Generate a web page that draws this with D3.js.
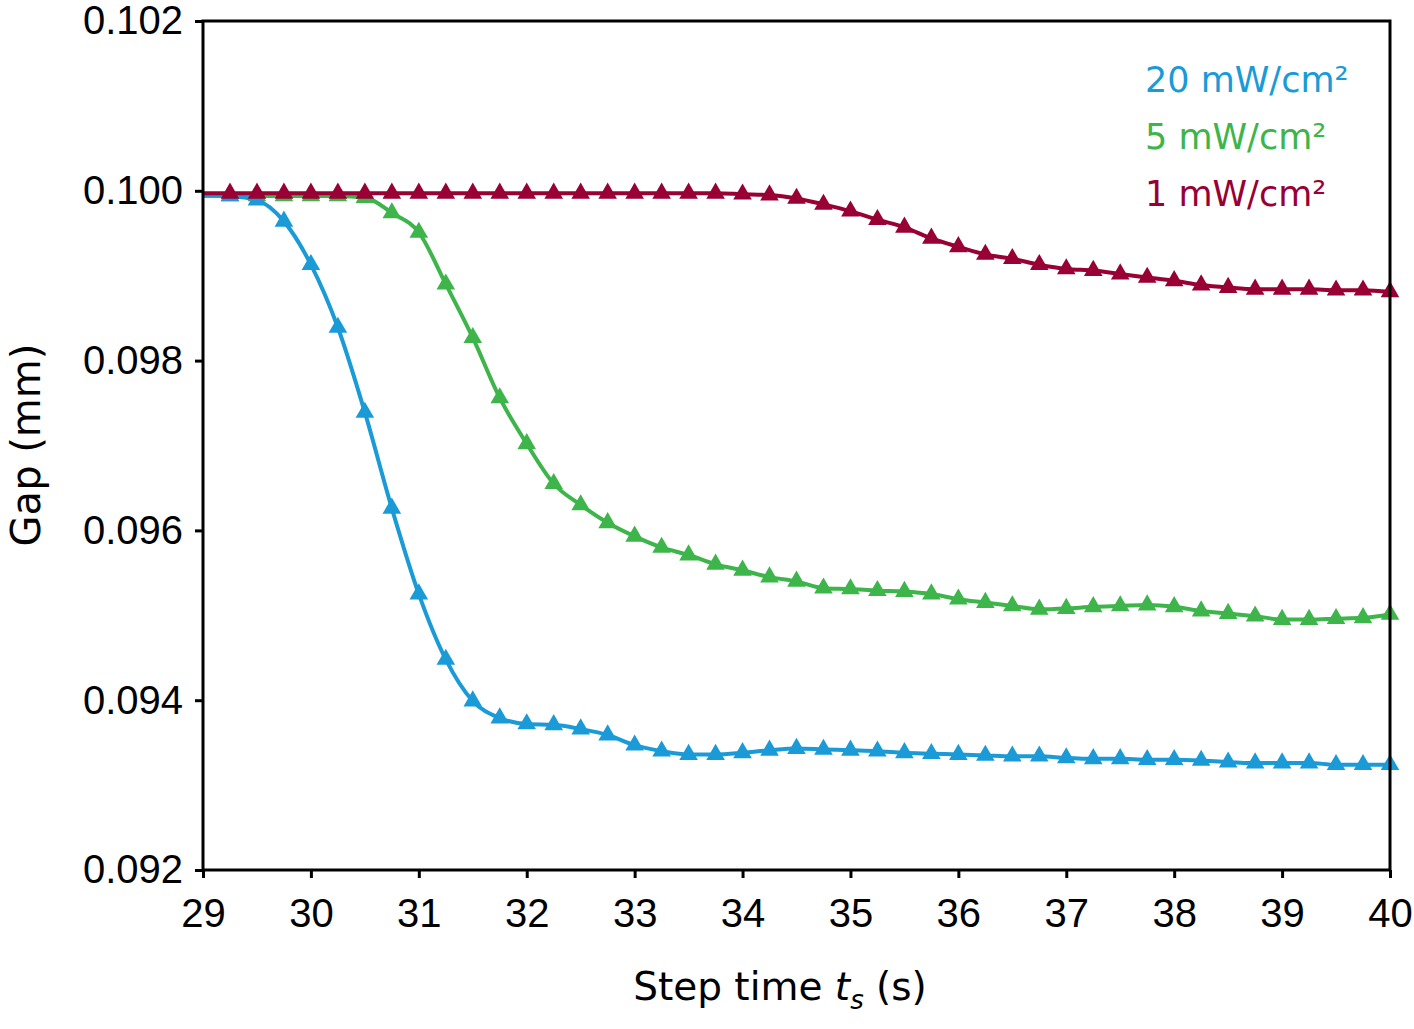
<!DOCTYPE html>
<html>
<head>
<meta charset="utf-8">
<script src="https://cdn.jsdelivr.net/npm/d3@7"></script>
<style>
  body { margin: 0; background: #fff; }
  svg { display: block; font-family: "DejaVu Sans", sans-serif; }
  .axis text { font-size: 40px; fill: #000; }
  .axis line { stroke: #000; stroke-width: 3px; }
</style>
</head>
<body>
<svg id="chart" width="1414" height="1029"></svg>
<script>
// step time (s)
var times = [29, 29.25, 29.5, 29.75, 30, 30.25, 30.5, 30.75, 31, 31.25, 31.5, 31.75,
  32, 32.25, 32.5, 32.75, 33, 33.25, 33.5, 33.75, 34, 34.25, 34.5, 34.75,
  35, 35.25, 35.5, 35.75, 36, 36.25, 36.5, 36.75, 37, 37.25, 37.5, 37.75,
  38, 38.25, 38.5, 38.75, 39, 39.25, 39.5, 39.75, 40];

// gap (mm) per intensity
var gap20 = [0.09995, 0.09994, 0.09989, 0.09964, 0.09913, 0.09839, 0.09739, 0.09626, 0.09525, 0.09448, 0.09399, 0.09379,
  0.09372, 0.09371, 0.09366, 0.09359, 0.09347, 0.09340, 0.09336, 0.09336, 0.09338, 0.09341, 0.09343, 0.09342,
  0.09341, 0.09340, 0.09338, 0.09337, 0.09336, 0.09335, 0.09334, 0.09334, 0.09332, 0.09331, 0.09331, 0.09330,
  0.09330, 0.09329, 0.09327, 0.09326, 0.09326, 0.09326, 0.09324, 0.09324, 0.09324];

var gap5 = [0.09994, 0.09994, 0.09994, 0.09994, 0.09994, 0.09994, 0.09992, 0.09974, 0.09951, 0.09890, 0.09827, 0.09756,
  0.09702, 0.09655, 0.09630, 0.09609, 0.09593, 0.09580, 0.09571, 0.09560, 0.09553, 0.09545, 0.09540, 0.09532,
  0.09531, 0.09529, 0.09528, 0.09525, 0.09519, 0.09515, 0.09511, 0.09507, 0.09508, 0.09510, 0.09511, 0.09512,
  0.09510, 0.09505, 0.09502, 0.09499, 0.09495, 0.09495, 0.09496, 0.09497, 0.09501];

var gap1 = [0.09997, 0.09997, 0.09997, 0.09997, 0.09997, 0.09997, 0.09997, 0.09997, 0.09997, 0.09997, 0.09997, 0.09997,
  0.09997, 0.09997, 0.09997, 0.09997, 0.09997, 0.09997, 0.09997, 0.09997, 0.09996, 0.09995, 0.09991, 0.09984,
  0.09976, 0.09966, 0.09957, 0.09944, 0.09934, 0.09925, 0.09920, 0.09913, 0.09908, 0.09906, 0.09902, 0.09898,
  0.09894, 0.09889, 0.09886, 0.09884, 0.09884, 0.09884, 0.09883, 0.09883, 0.09881];

var xTicks = [29, 30, 31, 32, 33, 34, 35, 36, 37, 38, 39, 40];
var yTicks = [0.092, 0.094, 0.096, 0.098, 0.100, 0.102];

var legendLabels = ['20 mW/cm\u00b2', '5 mW/cm\u00b2', '1 mW/cm\u00b2'];
var colors = ['#1a9bd7', '#3db54a', '#990033'];

var margin = {top: 21, right: 24, bottom: 159, left: 203};
var width = 1414 - margin.left - margin.right;
var height = 1029 - margin.top - margin.bottom;

var svg = d3.select('#chart');
var g = svg.append('g').attr('transform', 'translate(' + margin.left + ',' + margin.top + ')');

var x = d3.scaleLinear().domain([29, 40]).range([0, width]);
var y = d3.scaleLinear().domain([0.092, 0.102]).range([height, 0]);

g.append('g')
  .attr('class', 'axis')
  .attr('transform', 'translate(0,' + height + ')')
  .call(d3.axisBottom(x).tickValues(xTicks).tickSize(8).tickPadding(21).tickFormat(d3.format('d')))
  .call(function (a) { a.select('.domain').remove(); });

g.append('g')
  .attr('class', 'axis')
  .call(d3.axisLeft(y).tickValues(yTicks).tickSize(8).tickPadding(12).tickFormat(d3.format('.3f')))
  .call(function (a) { a.select('.domain').remove(); });

// series, drawn so red ends up on top
var series = [
  {values: gap5, color: colors[1]},
  {values: gap20, color: colors[0]},
  {values: gap1, color: colors[2]}
];

var line = d3.line()
  .x(function (d, i) { return x(times[i]); })
  .y(function (d) { return y(d); })
  .curve(d3.curveMonotoneX);

var tri = d3.symbol().type(d3.symbolTriangle).size(150);

series.forEach(function (s) {
  var sg = g.append('g');
  sg.append('path')
    .attr('d', line(s.values))
    .attr('fill', 'none')
    .attr('stroke', s.color)
    .attr('stroke-width', 4);

  sg.selectAll('path.pt')
    .data(s.values.slice(1))
    .enter().append('path')
    .attr('class', 'pt')
    .attr('d', tri)
    .attr('transform', function (d, i) {
      return 'translate(' + x(times[i + 1]) + ',' + y(d) + ')';
    })
    .attr('fill', s.color);
});

// frame
g.append('rect')
  .attr('width', width)
  .attr('height', height)
  .attr('fill', 'none')
  .attr('stroke', '#000')
  .attr('stroke-width', 3);

// legend
g.selectAll('text.legend')
  .data(legendLabels)
  .enter().append('text')
  .attr('class', 'legend')
  .attr('x', 942)
  .attr('y', function (d, i) { return 71 + i * 57; })
  .attr('fill', function (d, i) { return colors[i]; })
  .style('font-size', '35px')
  .text(function (d) { return d; });

// axis titles
var xt = svg.append('text')
  .attr('x', 780)
  .attr('y', 1000)
  .attr('text-anchor', 'middle')
  .style('font-size', '39px');
xt.append('tspan').text('Step time ');
xt.append('tspan').style('font-style', 'italic').text('t');
xt.append('tspan').attr('dy', 9).style('font-size', '26px').style('font-style', 'italic').text('s');
xt.append('tspan').attr('dy', -9).text(' (s)');

svg.append('text')
  .attr('transform', 'translate(40,445)rotate(-90)')
  .attr('text-anchor', 'middle')
  .style('font-size', '40px')
  .text('Gap (mm)');
</script>
</body>
</html>
